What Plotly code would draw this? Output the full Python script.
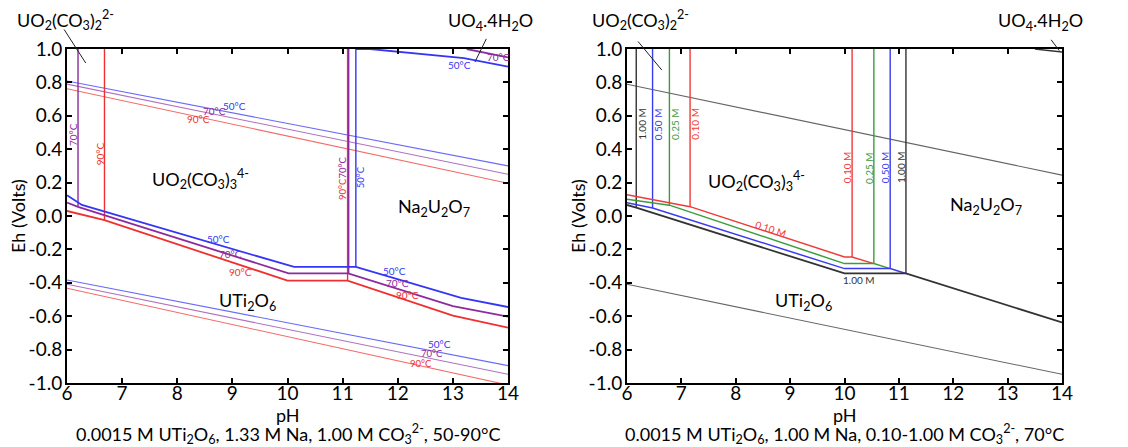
import plotly.graph_objects as go

# ---------------- data ----------------
PH_RANGE = [6, 14]
EH_RANGE = [-1.0, 1.0]
x_tickvals = [6, 7, 8, 9, 10, 11, 12, 13, 14]
x_ticktext = ["6", "7", "8", "9", "10", "11", "12", "13", "14"]
y_tickvals = [1.0, 0.8, 0.6, 0.4, 0.2, 0.0, -0.2, -0.4, -0.6, -0.8, -1.0]
y_ticktext = ["1.0", "0.8", "0.6", "0.4", "0.2", "0.0", "-0.2", "-0.4", "-0.6", "-0.8", "-1.0"]

# Left panel: 50, 70, 90 °C
water_ph = [6, 14]
water_top_50 = [0.808, 0.300]
water_top_70 = [0.790, 0.250]
water_top_90 = [0.762, 0.196]
water_bot_50 = [-0.383, -0.896]
water_bot_70 = [-0.409, -0.948]
water_bot_90 = [-0.433, -1.012]

b50_ph = [6.0, 6.27, 10.12, 11.24, 13.15, 14.0]
b50_eh = [0.125, 0.066, -0.305, -0.305, -0.490, -0.545]
b70_ph = [6.0, 6.20, 10.02, 11.10, 13.0, 14.0]
b70_eh = [0.080, 0.055, -0.343, -0.343, -0.539, -0.603]
b90_ph = [6.0, 6.68, 10.00, 11.09, 13.0, 14.0]
b90_eh = [0.030, -0.025, -0.387, -0.387, -0.597, -0.669]

top50_ph = [11.24, 11.5, 13.2, 14.0]
top50_eh = [1.0, 1.0, 0.945, 0.894]
top70_ph = [13.25, 14.0]
top70_eh = [1.0, 0.950]

# vertical boundaries (pH, bottom Eh)
vert_left_ph = [6.20, 6.68, 11.09, 11.11, 11.24]
vert_left_bot = [0.055, -0.025, -0.387, -0.343, -0.305]
vert_left_T = ["70", "90", "90", "70", "50"]

# Right panel: 70 °C, 0.10 - 1.00 M carbonate
water_top_r = [0.789, 0.245]
water_bot_r = [-0.409, -0.948]
uo4_ph = [13.5, 14.0]
uo4_eh = [1.0, 0.982]

c100_ph = [6.0, 6.17, 10.0, 11.13, 14.0]
c100_eh = [0.066, 0.050, -0.344, -0.344, -0.637]
c050_ph = [6.0, 6.47, 10.0, 10.84, 11.13]
c050_eh = [0.080, 0.048, -0.315, -0.315, -0.344]
c025_ph = [6.0, 6.78, 10.0, 10.54, 10.84]
c025_eh = [0.100, 0.065, -0.285, -0.285, -0.315]
c010_ph = [6.0, 7.16, 10.0, 10.14, 10.54]
c010_eh = [0.127, 0.056, -0.245, -0.245, -0.285]

conc_labels = ["1.00 M", "0.50 M", "0.25 M", "0.10 M"]
vert_r_low_ph = [6.17, 6.47, 6.78, 7.16]
vert_r_low_bot = [0.050, 0.048, 0.065, 0.056]
vert_r_high_ph = [11.13, 10.84, 10.54, 10.14]
vert_r_high_bot = [-0.344, -0.315, -0.285, -0.245]

# ---------------- styles ----------------
FONT = "Lato, 'Open Sans', sans-serif"
COL_T = {"50": "#3535f5", "70": "#8e2a9e", "90": "#f03030"}
COL_T_LIGHT = {"50": "#6a6af8", "70": "#b070c0", "90": "#f56a6a"}
COL_C = {"1.00 M": "#333333", "0.50 M": "#3a3af0", "0.25 M": "#3c9c3c", "0.10 M": "#f03a3a"}

# page body has an 8px margin: work in window pixels and offset the figure
OFF = 8
W, H = 1128 - OFF, 447 - OFF

def pxx(px):
    return (px - OFF) / W

def pxy(py):
    return 1 - (py - OFF) / H

fig = go.Figure()

def line(x, y, color, width, xa="x", ya="y"):
    fig.add_trace(go.Scatter(x=x, y=y, mode="lines", xaxis=xa, yaxis=ya,
                             line=dict(color=color, width=width),
                             hoverinfo="skip", showlegend=False))

# ---- left panel traces ----
for T, top, bot in [("50", water_top_50, water_bot_50),
                    ("70", water_top_70, water_bot_70),
                    ("90", water_top_90, water_bot_90)]:
    line(water_ph, top, COL_T_LIGHT[T], 1.1)
    line(water_ph, bot, COL_T_LIGHT[T], 1.1)

for ph, bot, T in zip(vert_left_ph, vert_left_bot, vert_left_T):
    line([ph, ph], [bot, EH_RANGE[1]], COL_T[T], 1.4)

line(b90_ph, b90_eh, COL_T["90"], 1.8)
line(b70_ph, b70_eh, COL_T["70"], 1.8)
line(b50_ph, b50_eh, COL_T["50"], 1.8)
line(top50_ph, top50_eh, COL_T["50"], 1.8)
line(top70_ph, top70_eh, COL_T["70"], 1.8)

# ---- right panel traces ----
line(water_ph, water_top_r, "#666666", 1.1, "x2", "y2")
line(water_ph, water_bot_r, "#666666", 1.1, "x2", "y2")
line(uo4_ph, uo4_eh, "#333333", 1.4, "x2", "y2")

for lab, ph, bot in zip(conc_labels, vert_r_low_ph, vert_r_low_bot):
    line([ph, ph], [bot, EH_RANGE[1]], COL_C[lab], 1.4, "x2", "y2")
for lab, ph, bot in zip(conc_labels, vert_r_high_ph, vert_r_high_bot):
    line([ph, ph], [bot, EH_RANGE[1]], COL_C[lab], 1.4, "x2", "y2")

line(c010_ph, c010_eh, COL_C["0.10 M"], 1.5, "x2", "y2")
line(c025_ph, c025_eh, COL_C["0.25 M"], 1.5, "x2", "y2")
line(c050_ph, c050_eh, COL_C["0.50 M"], 1.5, "x2", "y2")
line(c100_ph, c100_eh, COL_C["1.00 M"], 1.8, "x2", "y2")

# ---------------- annotations ----------------
ann = []

def txt(x, y, text, size, color="black", xa="x", ya="y", angle=0):
    ann.append(dict(x=x, y=y, xref=xa, yref=ya, text=text, showarrow=False,
                    font=dict(family=FONT, size=size, color=color),
                    textangle=angle, xanchor="center", yanchor="middle"))

def ptxt(xpx, ypx, text, size, angle=0, color="black"):
    ann.append(dict(x=pxx(xpx), y=pxy(ypx), xref="paper", yref="paper", text=text,
                    showarrow=False, font=dict(family=FONT, size=size, color=color),
                    textangle=angle, xanchor="center", yanchor="middle"))

def leader(x0, y0, x1, y1, xa="x", ya="y"):
    ann.append(dict(x=x1, y=y1, ax=x0, ay=y0, xref=xa, yref=ya, axref=xa, ayref=ya,
                    text="", showarrow=True, arrowhead=0, arrowwidth=1,
                    arrowcolor="#222222", standoff=0, startstandoff=0))

REG = 18
SMALL = 10

# Left panel region labels
txt(8.42, 0.22, "UO<sub>2</sub>(CO<sub>3</sub>)<sub>3</sub><sup>4-</sup>", REG)
txt(12.65, 0.05, "Na<sub>2</sub>U<sub>2</sub>O<sub>7</sub>", REG)
txt(9.27, -0.51, "UTi<sub>2</sub>O<sub>6</sub>", REG)
ptxt(65, 20, "UO<sub>2</sub>(CO<sub>3</sub>)<sub>2</sub><sup>2-</sup>", REG)
ptxt(490, 22, "UO<sub>4</sub>.4H<sub>2</sub>O", REG)
leader(5.93, 1.126, 6.34, 0.916)
leader(13.62, 1.07, 13.40, 0.922)

# Left panel temperature labels
txt(9.04, 0.66, "50°C", SMALL, COL_T["50"])
txt(8.68, 0.628, "70°C", SMALL, COL_T["70"])
txt(8.38, 0.582, "90°C", SMALL, COL_T["90"])
txt(13.12, 0.905, "50°C", SMALL, COL_T["50"])
txt(13.83, 0.955, "70°C", SMALL, COL_T["70"])
txt(6.11, 0.485, "70°C", SMALL, COL_T["70"], angle=-90)
txt(6.60, 0.370, "90°C", SMALL, COL_T["90"], angle=-90)
txt(11.00, 0.160, "90°C", 9.5, COL_T["90"], angle=-90)
txt(11.00, 0.288, "70°C", 9.5, COL_T["70"], angle=-90)
txt(11.33, 0.231, "50°C", 9.5, COL_T["50"], angle=-90)
txt(8.75, -0.138, "50°C", SMALL, COL_T["50"])
txt(8.96, -0.230, "70°C", SMALL, COL_T["70"])
txt(9.14, -0.333, "90°C", SMALL, COL_T["90"])
txt(11.94, -0.327, "50°C", SMALL, COL_T["50"])
txt(12.00, -0.400, "70°C", SMALL, COL_T["70"])
txt(12.18, -0.473, "90°C", SMALL, COL_T["90"])
txt(12.76, -0.765, "50°C", SMALL, COL_T["50"])
txt(12.62, -0.822, "70°C", 9.5, COL_T["70"])
txt(12.42, -0.882, "90°C", 9.5, COL_T["90"])

# Right panel region labels
txt(8.39, 0.21, "UO<sub>2</sub>(CO<sub>3</sub>)<sub>3</sub><sup>4-</sup>", REG, xa="x2", ya="y2")
txt(12.60, 0.06, "Na<sub>2</sub>U<sub>2</sub>O<sub>7</sub>", REG, xa="x2", ya="y2")
txt(9.24, -0.51, "UTi<sub>2</sub>O<sub>6</sub>", REG, xa="x2", ya="y2")
ptxt(640, 20, "UO<sub>2</sub>(CO<sub>3</sub>)<sub>2</sub><sup>2-</sup>", REG)
ptxt(1040, 22, "UO<sub>4</sub>.4H<sub>2</sub>O", REG)
leader(6.18, 1.054, 6.64, 0.874, "x2", "y2")
leader(13.78, 1.064, 13.95, 0.99, "x2", "y2")

# Right panel concentration labels
for lab, ph in zip(conc_labels, vert_r_low_ph):
    txt(ph + 0.10, 0.55, lab, SMALL, COL_C[lab], "x2", "y2", angle=-90)
for lab, ph in zip(conc_labels, vert_r_high_ph):
    txt(ph - 0.10, 0.29, lab, SMALL, COL_C[lab], "x2", "y2", angle=-90)
txt(8.65, -0.075, "0.10 M", SMALL, COL_C["0.10 M"], "x2", "y2", angle=18)
txt(10.27, -0.385, "1.00 M", SMALL, COL_C["1.00 M"], "x2", "y2")

# axis titles and captions (window pixel positions)
ptxt(18, 216, "Eh (Volts)", 18, -90)
ptxt(578, 216, "Eh (Volts)", 18, -90)
ptxt(287.5, 415, "pH", 18)
ptxt(844.5, 415, "pH", 18)
ptxt(287.5, 434,
     "0.0015 M UTi<sub>2</sub>O<sub>6</sub>, 1.33 M Na, 1.00 M CO<sub>3</sub><sup>2-</sup>, 50-90°C", 18)
ptxt(844.5, 434,
     "0.0015 M UTi<sub>2</sub>O<sub>6</sub>, 1.00 M Na, 0.10-1.00 M CO<sub>3</sub><sup>2-</sup>, 70°C", 18)

axis_common = dict(showline=True, linecolor="black", linewidth=2, mirror="ticks",
                   ticks="inside", ticklen=5, tickwidth=2, tickcolor="black",
                   showgrid=False, zeroline=False, automargin=False,
                   tickfont=dict(family=FONT, size=19, color="black"))

y0d = pxy(383)
y1d = pxy(49)

fig.update_layout(
    template="none",
    width=W, height=H,
    margin=dict(l=0, r=0, t=0, b=0, pad=0),
    paper_bgcolor="white", plot_bgcolor="white",
    showlegend=False,
    annotations=ann,
    xaxis=dict(domain=[pxx(67), pxx(508)], range=PH_RANGE, anchor="y",
               tickvals=x_tickvals, ticktext=x_ticktext, ticklabelstandoff=-8, **axis_common),
    yaxis=dict(domain=[y0d, y1d], range=EH_RANGE, anchor="x",
               tickvals=y_tickvals, ticktext=y_ticktext, ticklabelstandoff=-1, **axis_common),
    xaxis2=dict(domain=[pxx(627), pxx(1062)], range=PH_RANGE, anchor="y2",
                tickvals=x_tickvals, ticktext=x_ticktext, ticklabelstandoff=-8, **axis_common),
    yaxis2=dict(domain=[y0d, y1d], range=EH_RANGE, anchor="x2",
                tickvals=y_tickvals, ticktext=y_ticktext, ticklabelstandoff=-1, **axis_common),
)

fig.write_html("out.html")
